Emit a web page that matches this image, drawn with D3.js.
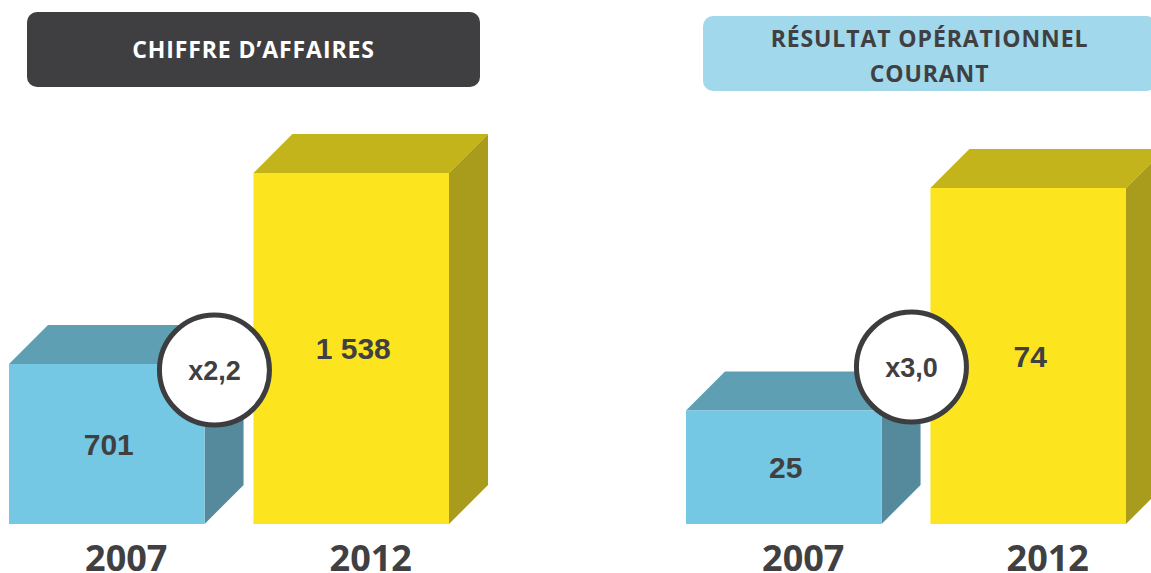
<!DOCTYPE html>
<html>
<head>
<meta charset="utf-8">
<script src="https://cdn.jsdelivr.net/npm/d3@7"></script>
<style>
  body { margin: 0; background: #fff; }
  svg { display: block; }
</style>
</head>
<body>
<div id="chart"></div>
<script>
// Data
let years = ["2007", "2012"];
let caValues = [701, 1538];
let caLabels = ["701", "1 538"];
let rocValues = [25, 74];
let rocLabels = ["25", "74"];
let panelTitles = [["CHIFFRE D\u2019AFFAIRES"], ["R\u00c9SULTAT OP\u00c9RATIONNEL", "COURANT"]];
let growthLabels = ["x2,2", "x3,0"];

// Set up SVG
let svgWidth = 1151;
let svgHeight = 573;
let baseY = 524;
let depth = 39;
let textColor = "#404042";

let frontColors = ["#74c8e4", "#fce51f"];
let topColors = ["#5f9fb3", "#c4b41c"];
let sideColors = ["#548a9b", "#a99c1d"];

let panels = [
  { values: caValues, labels: caLabels, title: panelTitles[0], growth: growthLabels[0],
    xRange: [9, 449], maxH: 351, boxX: 27, boxY: 12, boxFill: "#3f3f41", titleColor: "#ffffff",
    titleY: [58], circleDx: 39, circleY: 370 },
  { values: rocValues, labels: rocLabels, title: panelTitles[1], growth: growthLabels[1],
    xRange: [686, 1126], maxH: 336, boxX: 703, boxY: 16, boxFill: "#a1d8eb", titleColor: textColor,
    titleY: [47, 82], circleDx: 19, circleY: 367 }
];

let svg = d3.select("#chart")
  .append("svg")
  .attr("width", svgWidth)
  .attr("height", svgHeight);

panels.forEach(p => {
  let g = svg.append("g");

  // title box
  g.append("rect")
    .attr("x", p.boxX)
    .attr("y", p.boxY)
    .attr("width", 453)
    .attr("height", 75)
    .attr("rx", 10)
    .attr("fill", p.boxFill);

  p.title.forEach((line, i) => {
    g.append("text")
      .attr("x", p.boxX + 453 / 2)
      .attr("y", p.titleY[i])
      .attr("text-anchor", "middle")
      .style("font-family", "'Open Sans', sans-serif")
      .style("font-weight", 700)
      .style("font-size", "23px")
      .style("letter-spacing", "0.9px")
      .attr("fill", p.titleColor)
      .text(line);
  });

  // scales
  let x = d3.scaleBand()
    .domain(years)
    .range(p.xRange)
    .paddingInner(0.2);
  let y = d3.scaleLinear()
    .domain([0, d3.max(p.values)])
    .range([baseY, baseY - p.maxH]);

  let data = years.map((yr, i) => ({ year: yr, value: p.values[i], label: p.labels[i], i: i }));
  let bw = x.bandwidth();

  let bars = g.selectAll(".bar")
    .data(data)
    .enter()
    .append("g")
    .attr("class", "bar");

  // top face
  bars.append("polygon")
    .attr("points", d => {
      let x0 = x(d.year), x1 = x0 + bw, y0 = y(d.value);
      return [[x0, y0], [x0 + depth, y0 - depth], [x1 + depth, y0 - depth], [x1, y0]].join(" ");
    })
    .attr("fill", d => topColors[d.i]);

  // side face
  bars.append("polygon")
    .attr("points", d => {
      let x1 = x(d.year) + bw, y0 = y(d.value);
      return [[x1, y0], [x1 + depth, y0 - depth], [x1 + depth, baseY - depth], [x1, baseY]].join(" ");
    })
    .attr("fill", d => sideColors[d.i]);

  // front face
  bars.append("rect")
    .attr("x", d => x(d.year))
    .attr("y", d => y(d.value))
    .attr("width", bw)
    .attr("height", d => baseY - y(d.value))
    .attr("fill", d => frontColors[d.i]);

  // value labels
  bars.append("text")
    .attr("x", d => x(d.year) + bw / 2 + 2)
    .attr("y", d => (y(d.value) + baseY) / 2)
    .attr("dy", "0.36em")
    .attr("text-anchor", "middle")
    .style("font-family", "'Liberation Sans', Arial, sans-serif")
    .style("font-weight", 700)
    .style("font-size", "30px")
    .attr("fill", textColor)
    .text(d => d.label);

  // year labels
  bars.append("text")
    .attr("x", d => x(d.year) + (bw + depth) / 2)
    .attr("y", 571)
    .attr("text-anchor", "middle")
    .style("font-family", "'Open Sans', sans-serif")
    .style("font-weight", 700)
    .style("font-size", "36px")
    .attr("fill", textColor)
    .text(d => d.year);

  // growth circle
  let cx = x(years[1]) - p.circleDx;
  g.append("circle")
    .attr("cx", cx)
    .attr("cy", p.circleY)
    .attr("r", 55)
    .attr("fill", "#ffffff")
    .attr("stroke", "#3d3d3f")
    .attr("stroke-width", 5);

  g.append("text")
    .attr("x", cx)
    .attr("y", p.circleY)
    .attr("dy", "0.36em")
    .attr("text-anchor", "middle")
    .style("font-family", "'Liberation Sans', Arial, sans-serif")
    .style("font-weight", 700)
    .style("font-size", "27px")
    .attr("fill", textColor)
    .text(p.growth);
});
</script>
</body>
</html>
